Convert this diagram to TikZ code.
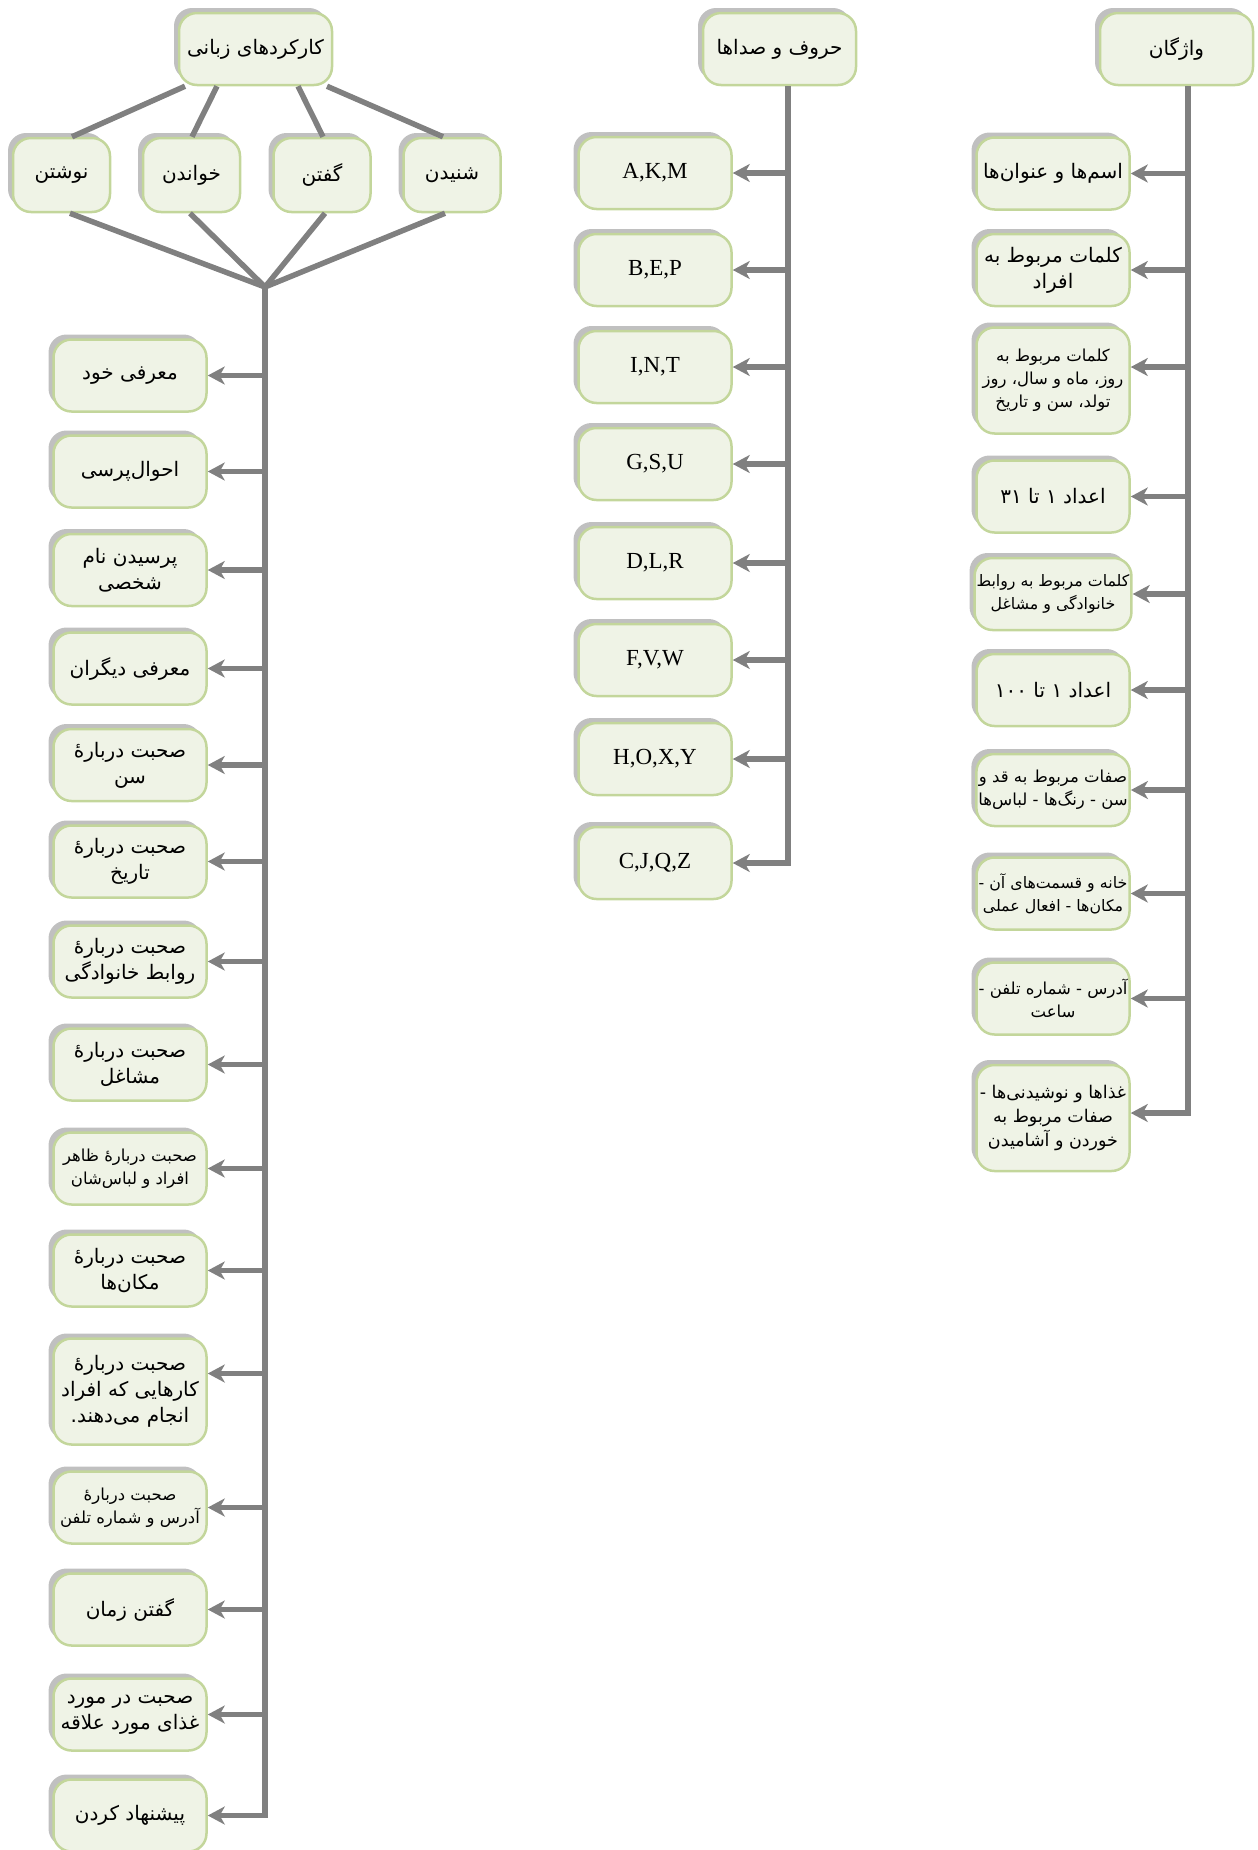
\documentclass[tikz,border=0pt]{standalone}
\usepackage{fontspec}
\setmainfont{Liberation Serif}
\newfontfamily\arfont[Script=Arabic]{DejaVu Sans}
\TeXXeTstate=1
\usetikzlibrary{arrows.meta,shadows}
\definecolor{boxfill}{RGB}{239,243,230}
\definecolor{boxline}{RGB}{195,214,155}
\definecolor{shade}{RGB}{192,192,192}
\definecolor{conn}{RGB}{128,128,128}
\newcommand\rl[1]{\beginR #1\endR}
\newcommand\dar{دربار^^^^0647^^^^0654}
\begin{document}
\begin{tikzpicture}[x=1pt,y=-1pt,
  bx/.style={draw=boxline, line width=2.5pt, fill=boxfill, rounded corners=18pt,
    minimum width=153pt, minimum height=72pt, align=center, inner sep=2pt,
    font=\arfont\fontsize{20}{26}\selectfont,
    drop shadow={shadow xshift=-5pt, shadow yshift=5pt, fill=shade, opacity=1}},
  lat/.style={bx, font=\fontsize{23}{26}\selectfont},
  fs18/.style={font=\arfont\fontsize{17.5}{24}\selectfont},
  fs17/.style={font=\arfont\fontsize{16.5}{23}\selectfont},
  fs16/.style={font=\arfont\fontsize{15.8}{23}\selectfont},
  smallbx/.style={minimum width=97pt, minimum height=74pt},
  tallbx/.style={minimum height=106pt},
  ln/.style={draw=conn, line width=5.5pt},
  arr/.style={ln, -{Stealth[length=17pt,width=18pt,inset=5pt]}},
]
\useasboundingbox (0,0) rectangle (1258,1850);

% ---------- left tree ----------
\node[bx] (T) at (255.5,49) {\rl{کارکردهای زبانی}};
\node[bx,smallbx] (S1) at (61.5,175) {\rl{نوشتن}};
\node[bx,smallbx] (S2) at (191.5,175) {\rl{خواندن}};
\node[bx,smallbx] (S3) at (322,175) {\rl{گفتن}};
\node[bx,smallbx] (S4) at (452,175) {\rl{شنیدن}};
\coordinate (J) at (265,287);

\node[bx] (L1) at (130,375.5) {\rl{معرفی خود}};
\node[bx] (L2) at (130,471.5) {\rl{احوال^^^^200cپرسی}};
\node[bx] (L3) at (130,570) {\rl{پرسیدن نام}\\\rl{شخصی}};
\node[bx] (L4) at (130,668.5) {\rl{معرفی دیگران}};
\node[bx] (L5) at (130,765) {\rl{صحبت \dar}\\\rl{سن}};
\node[bx] (L6) at (130,861.5) {\rl{صحبت \dar}\\\rl{تاریخ}};
\node[bx] (L7) at (130,961.5) {\rl{صحبت \dar}\\\rl{روابط خانوادگی}};
\node[bx] (L8) at (130,1064.5) {\rl{صحبت \dar}\\\rl{مشاغل}};
\node[bx,fs17] (L9) at (130,1168.5) {\rl{صحبت \dar{} ظاهر}\\\rl{افراد و لباس^^^^200cشان}};
\node[bx] (L10) at (130,1270.5) {\rl{صحبت \dar}\\\rl{مکان^^^^200cها}};
\node[bx,tallbx] (L11) at (130,1391.5) {\rl{صحبت \dar}\\\rl{کارهایی که افراد}\\\rl{انجام می^^^^200cدهند.}};
\node[bx,fs17] (L12) at (130,1507.5) {\rl{صحبت \dar}\\\rl{آدرس و شماره تلفن}};
\node[bx] (L13) at (130,1609.5) {\rl{گفتن زمان}};
\node[bx] (L14) at (130,1714.5) {\rl{صحبت در مورد}\\\rl{غذای مورد علاقه}};
\node[bx] (L15) at (130,1815.5) {\rl{پیشنهاد کردن}};

\draw[ln] ([xshift=-70.5pt]T.south) -- ([xshift=10.5pt]S1.north);
\draw[ln] ([xshift=-38.5pt]T.south) -- ([xshift=0.5pt]S2.north);
\draw[ln] ([xshift=42.5pt]T.south) -- ([xshift=1pt]S3.north);
\draw[ln] ([xshift=71.5pt]T.south) -- ([xshift=-9pt]S4.north);
\draw[ln] ([xshift=8.5pt]S1.south) -- (J);
\draw[ln] ([xshift=-1.5pt]S2.south) -- (J);
\draw[ln] ([xshift=3pt]S3.south) -- (J);
\draw[ln] ([xshift=-7pt]S4.south) -- (J);

\draw[arr] (J) |- (L15.east);
\foreach \n in {L1,L2,L3,L4,L5,L6,L7,L8,L9,L10,L12,L13,L14}
  \draw[arr] (J |- \n.east) -- (\n.east);
\coordinate (L11a) at ([yshift=18pt]L11.east);
\draw[arr] (J |- L11a) -- (L11a);

% ---------- middle tree ----------
\node[bx] (M) at (779.5,49) {\rl{حروف و صداها}};
\coordinate (MJ) at ([xshift=8.5pt]M.south);
\node[lat] (M1) at (655,173) {A,K,M};
\node[lat] (M2) at (655,270) {B,E,P};
\node[lat] (M3) at (655,367) {I,N,T};
\node[lat] (M4) at (655,464) {G,S,U};
\node[lat] (M5) at (655,563) {D,L,R};
\node[lat] (M6) at (655,660) {F,V,W};
\node[lat] (M7) at (655,759) {H,O,X,Y};
\node[lat] (M8) at (655,863) {C,J,Q,Z};
\draw[arr] (MJ) |- (M8.east);
\foreach \n in {M1,M2,M3,M4,M5,M6,M7}
  \draw[arr] (MJ |- \n.east) -- (\n.east);

% ---------- right tree ----------
\node[bx] (V) at (1176.5,49) {\rl{واژگان}};
\coordinate (VJ) at ([xshift=11.5pt]V.south);
\node[bx] (R1) at (1053,173.5) {\rl{اسم^^^^200cها و عنوان^^^^200cها}};
\node[bx] (R2) at (1053,270) {\rl{کلمات مربوط به}\\\rl{افراد}};
\node[bx,tallbx,fs17] (R3) at (1053,380.5) {\rl{کلمات مربوط به}\\\rl{روز، ماه و سال، روز}\\\rl{تولد، سن و تاریخ}};
\node[bx] (R4) at (1053,496.5) {\rl{اعداد ۱ تا ۳۱}};
\node[bx,fs16] (R5) at (1053,594) {\rl{کلمات مربوط به روابط}\\\rl{خانوادگی و مشاغل}};
\node[bx] (R6) at (1053,690) {\rl{اعداد ۱ تا ۱۰۰}};
\node[bx,fs17] (R7) at (1053,790) {\rl{صفات مربوط به قد و}\\\rl{سن - رنگ^^^^200cها - لباس^^^^200cها}};
\node[bx,fs16] (R8) at (1053,893.5) {\rl{خانه و قسمت^^^^200cهای آن -}\\\rl{مکان^^^^200cها - افعال عملی}};
\node[bx,fs17] (R9) at (1053,998.5) {\rl{آدرس - شماره تلفن -}\\\rl{ساعت}};
\node[bx,tallbx,fs18] (R10) at (1053,1118) {\rl{غذاها و نوشیدنی^^^^200cها -}\\\rl{صفات مربوط به}\\\rl{خوردن و آشامیدن}};
\coordinate (R3a) at ([yshift=13.5pt]R3.east);
\coordinate (R10a) at ([yshift=5pt]R10.east);
\draw[arr] (VJ) |- (R10a);
\foreach \n in {R1,R2,R4,R5,R6,R7,R8,R9}
  \draw[arr] (VJ |- \n.east) -- (\n.east);
\draw[arr] (VJ |- R3a) -- (R3a);
\end{tikzpicture}
\end{document}
